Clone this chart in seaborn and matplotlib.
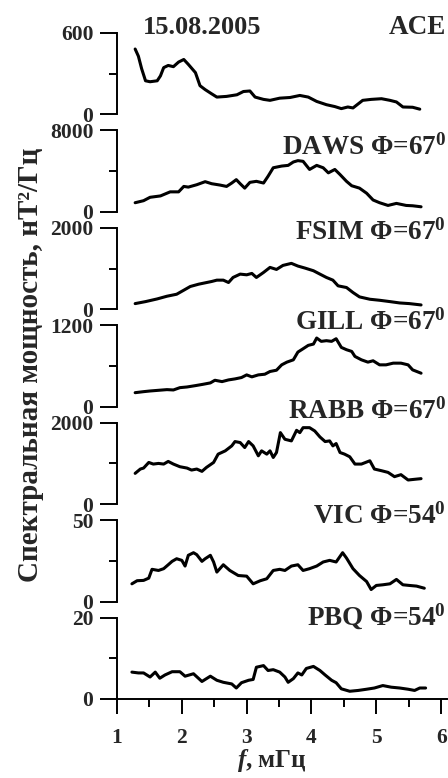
import matplotlib

matplotlib.use("Agg")
import matplotlib.pyplot as plt
import seaborn as sns

# spectral power vs frequency (mHz)
ace_f = [1.28, 1.33, 1.38, 1.44, 1.51, 1.62, 1.67, 1.72, 1.79, 1.87, 1.95, 2.03, 2.10, 2.21,
         2.28, 2.36, 2.46, 2.54, 2.69, 2.85, 2.95, 3.05, 3.13, 3.26, 3.36, 3.51, 3.67, 3.82,
         3.95, 4.08, 4.23, 4.36, 4.46, 4.56, 4.64, 4.79, 4.92, 5.08, 5.21, 5.31, 5.41, 5.56, 5.67]
ace_p = [482, 429, 337, 248, 241, 248, 284, 345, 361, 352, 386, 405, 369, 308,
         212, 183, 152, 128, 133, 145, 169, 173, 128, 111, 104, 120, 125, 140,
         128, 96, 72, 58, 43, 55, 48, 104, 111, 116, 104, 92, 55, 53, 39]

daws_f = [1.28, 1.41, 1.51, 1.67, 1.82, 1.95, 2.03, 2.10, 2.23, 2.36, 2.46, 2.59, 2.69, 2.77,
          2.84, 2.90, 2.97, 3.05, 3.15, 3.26, 3.33, 3.41, 3.54, 3.64, 3.72, 3.79, 3.87, 3.97,
          4.08, 4.18, 4.26, 4.36, 4.44, 4.54, 4.62, 4.74, 4.85, 4.95, 5.05, 5.18, 5.31, 5.46,
          5.56, 5.69]
daws_p = [900, 1100, 1433, 1567, 1967, 1967, 2500, 2433, 2667, 2967, 2767, 2633, 2500, 2833,
          3167, 2767, 2333, 2900, 3000, 2833, 3500, 4333, 4500, 4567, 4900, 5033, 4967, 4167,
          4567, 4333, 3833, 4167, 3667, 3000, 2567, 2333, 1833, 1167, 900, 633, 833, 633,
          600, 500]

fsim_f = [1.28, 1.44, 1.62, 1.77, 1.92, 2.03, 2.13, 2.26, 2.36, 2.46, 2.54, 2.64, 2.72, 2.79,
          2.90, 3.00, 3.08, 3.15, 3.26, 3.36, 3.46, 3.56, 3.69, 3.79, 3.90, 4.03, 4.13, 4.23,
          4.33, 4.41, 4.54, 4.64, 4.74, 4.90, 5.05, 5.21, 5.36, 5.51, 5.69]
fsim_p = [140, 189, 255, 321, 370, 469, 560, 617, 650, 683, 716, 716, 658, 782,
          864, 847, 881, 782, 905, 1029, 979, 1078, 1128, 1062, 1012, 947, 864, 782,
          716, 576, 535, 412, 305, 247, 222, 189, 156, 140, 107]

gill_f = [1.28, 1.41, 1.51, 1.64, 1.77, 1.87, 1.97, 2.08, 2.21, 2.33, 2.44, 2.51, 2.62, 2.72,
          2.82, 2.92, 3.00, 3.08, 3.18, 3.28, 3.36, 3.46, 3.54, 3.62, 3.72, 3.79, 3.87, 3.95,
          4.03, 4.08, 4.15, 4.23, 4.31, 4.38, 4.46, 4.54, 4.62, 4.67, 4.77, 4.87, 4.95, 5.05,
          5.15, 5.26, 5.38, 5.49, 5.56, 5.69]
gill_p = [207, 222, 232, 242, 252, 247, 281, 291, 311, 331, 351, 390, 370, 395,
          410, 430, 469, 440, 469, 479, 519, 538, 617, 657, 691, 805, 854, 904,
          923, 1012, 963, 973, 963, 1002, 874, 840, 815, 741, 691, 657, 677, 617,
          617, 642, 642, 617, 543, 494]

rabb_f = [1.28, 1.36, 1.41, 1.49, 1.56, 1.64, 1.72, 1.79, 1.87, 1.97, 2.08, 2.15, 2.23, 2.31,
          2.38, 2.49, 2.56, 2.67, 2.77, 2.82, 2.90, 2.97, 3.03, 3.10, 3.18, 3.23, 3.31, 3.36,
          3.41, 3.46, 3.52, 3.59, 3.69, 3.77, 3.82, 3.87, 3.97, 4.05, 4.13, 4.21, 4.28, 4.33,
          4.38, 4.44, 4.51, 4.59, 4.67, 4.77, 4.90, 4.97, 5.08, 5.18, 5.28, 5.38, 5.49, 5.59,
          5.69]
rabb_p = [756, 862, 886, 1024, 984, 1000, 984, 1049, 984, 919, 886, 837, 862, 805,
          902, 1024, 1228, 1309, 1431, 1537, 1512, 1390, 1537, 1431, 1187, 1309, 1228, 1309,
          1146, 1268, 1756, 1593, 1553, 1813, 1756, 1878, 1878, 1797, 1650, 1537, 1553, 1431,
          1488, 1268, 1228, 1163, 984, 984, 1065, 862, 821, 780, 675, 724, 593, 610,
          626]

vic_f = [1.23, 1.31, 1.41, 1.49, 1.54, 1.64, 1.72, 1.79, 1.85, 1.92, 2.00, 2.05, 2.10, 2.18,
         2.23, 2.31, 2.36, 2.44, 2.49, 2.54, 2.64, 2.74, 2.87, 3.00, 3.10, 3.21, 3.31, 3.41,
         3.51, 3.59, 3.69, 3.79, 3.87, 3.97, 4.08, 4.18, 4.28, 4.38, 4.48, 4.54, 4.64, 4.74,
         4.85, 4.92, 5.00, 5.10, 5.21, 5.31, 5.41, 5.51, 5.62, 5.74]
vic_p = [10.9, 12.8, 13.0, 14.4, 19.8, 19.1, 20.2, 22.6, 24.7, 26.3, 25.3, 21.8, 28.4, 30.0,
         28.8, 24.7, 26.3, 28.4, 24.3, 18.1, 22.6, 19.1, 16.0, 15.6, 10.9, 12.8, 14.0, 19.1,
         19.8, 19.1, 21.8, 22.6, 19.1, 20.2, 21.8, 24.3, 25.3, 24.3, 30.0, 26.7, 20.2, 16.0,
         12.3, 7.4, 9.9, 10.3, 10.9, 13.6, 10.3, 9.9, 9.5, 8.2]

pbq_f = [1.23, 1.33, 1.41, 1.51, 1.59, 1.66, 1.74, 1.85, 1.97, 2.05, 2.18, 2.31, 2.44, 2.54,
         2.64, 2.77, 2.84, 2.92, 3.03, 3.10, 3.15, 3.26, 3.33, 3.41, 3.51, 3.59, 3.64, 3.72,
         3.79, 3.85, 3.92, 4.03, 4.13, 4.21, 4.31, 4.38, 4.46, 4.59, 4.72, 4.85, 4.97, 5.10,
         5.23, 5.36, 5.49, 5.59, 5.67, 5.76]
pbq_p = [6.6, 6.4, 6.4, 5.4, 6.6, 5.1, 5.9, 6.7, 6.7, 5.6, 6.2, 4.3, 5.6, 4.6,
         4.1, 3.7, 2.7, 4.0, 4.6, 4.8, 7.8, 8.2, 7.0, 7.2, 6.6, 5.4, 4.1, 5.0,
         6.4, 5.9, 7.5, 8.0, 7.0, 5.9, 4.6, 4.0, 2.5, 1.9, 2.1, 2.4, 2.7, 3.3,
         2.9, 2.7, 2.4, 2.1, 2.7, 2.7]

stations = ["ACE", r"DAWS Φ=67$^{\mathbf{0}}$", r"FSIM Φ=67$^{\mathbf{0}}$", r"GILL Φ=67$^{\mathbf{0}}$",
            r"RABB Φ=67$^{\mathbf{0}}$", r"VIC Φ=54$^{\mathbf{0}}$", r"PBQ Φ=54$^{\mathbf{0}}$"]
y_max = [600, 8000, 2000, 1200, 2000, 50, 20]
series = [(ace_f, ace_p), (daws_f, daws_p), (fsim_f, fsim_p), (gill_f, gill_p),
          (rabb_f, rabb_p), (vic_f, vic_p), (pbq_f, pbq_p)]
x_ticks = [1, 2, 3, 4, 5, 6]

sns.set_theme(style="ticks")
plt.rcParams["font.family"] = ["Liberation Serif", "DejaVu Serif"]
plt.rcParams["font.weight"] = "bold"
plt.rcParams["mathtext.fontset"] = "custom"
plt.rcParams["mathtext.it"] = "Liberation Serif:italic:bold"
plt.rcParams["mathtext.rm"] = "Liberation Serif:bold"
plt.rcParams["mathtext.bf"] = "Liberation Serif:bold"

W, H = 448, 778
fig, axes = plt.subplots(7, 1, figsize=(W / 100, H / 100), dpi=100, sharex=True,
                         gridspec_kw=dict(hspace=0.196))
fig.subplots_adjust(left=117 / W, right=447 / W, top=1 - 33 / H, bottom=1 - 699 / H)

for i, ax in enumerate(axes):
    f, p = series[i]
    sns.lineplot(x=f, y=p, ax=ax, color="black", lw=2.2)
    ax.set_ylim(0, y_max[i])
    ax.set_xlim(1, 6.09)
    ax.set_yticks([0, y_max[i]])
    ax.set_yticks([y_max[i] / 2], minor=True)
    ax.set_yticklabels(["0", str(y_max[i])])
    ax.tick_params(axis="y", which="major", length=12, width=1.4, labelsize=15.5, pad=5, color="black")
    ax.tick_params(axis="y", which="minor", length=6, width=1.4, left=True, color="black")
    for s in ["top", "right"]:
        ax.spines[s].set_visible(False)
    ax.spines["left"].set_linewidth(1.4)
    ax.spines["left"].set_color("black")
    if i < 6:
        ax.spines["bottom"].set_visible(False)
        ax.tick_params(axis="x", which="both", bottom=False, labelbottom=False)
        ax.set_xlabel("")
    else:
        ax.spines["bottom"].set_linewidth(1.4)
        ax.spines["bottom"].set_color("black")
        ax.set_xticks(x_ticks)
        ax.set_xticks([t + 0.5 for t in x_ticks[:-1]], minor=True)
        ax.tick_params(axis="x", which="major", length=11, width=1.4, labelsize=15.5, pad=10,
                       color="black", bottom=True)
        ax.tick_params(axis="x", which="minor", length=6, width=1.4, bottom=True, color="black")
        ax.set_xlabel("$f$, мГц", fontsize=18, fontweight="bold", va="center")
        ax.xaxis.set_label_coords(0.47, -0.76)
    ax.set_ylabel("")

# panel captions (pixel centres)
label_y = [27, 147, 232, 322, 411, 516, 617]
for name, py in zip(stations, label_y):
    fig.text(446 / W, 1 - py / H, name, ha="right", va="center", fontsize=19.5, fontweight="bold")
fig.text(202 / W, 1 - 27 / H, "15.08.2005", ha="center", va="center", fontsize=19, fontweight="bold")
fig.text(31 / W, 1 - 365 / H, "Спектральная мощность, нТ²/Гц", rotation=90,
         ha="center", va="center", fontsize=21, fontweight="bold")

fig.savefig("out.png", dpi=100)
